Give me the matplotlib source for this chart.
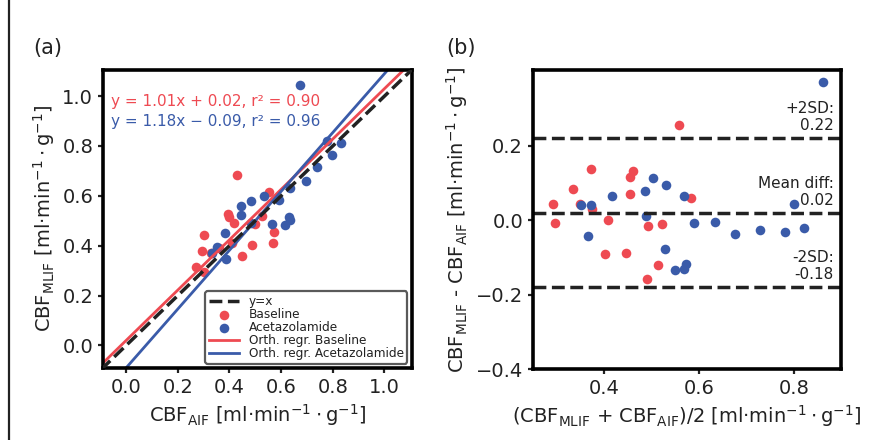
"""Recreate the MLIF vs AIF CBF comparison figure (scatter + Bland-Altman)."""

import matplotlib

matplotlib.use("Agg")
import matplotlib.pyplot as plt
from matplotlib.patches import Rectangle

RED = "#ee4a52"
BLUE = "#3a5ba9"
INK = "#222222"

# panel (a): CBF from AIF vs CBF from MLIF
base_aif = [0.430, 0.271, 0.300, 0.293, 0.327, 0.303, 0.360, 0.409, 0.447,
            0.489, 0.418, 0.397, 0.395, 0.570, 0.500, 0.574, 0.527, 0.553]
base_mlif = [0.685, 0.315, 0.294, 0.378, 0.372, 0.442, 0.391, 0.410, 0.357,
             0.402, 0.490, 0.514, 0.527, 0.411, 0.486, 0.454, 0.518, 0.614]
acet_aif = [0.332, 0.353, 0.388, 0.384, 0.446, 0.482, 0.446, 0.484, 0.566,
            0.615, 0.535, 0.634, 0.631, 0.591, 0.634, 0.695, 0.740, 0.796,
            0.777, 0.830, 0.674]
acet_mlif = [0.372, 0.393, 0.346, 0.449, 0.524, 0.493, 0.560, 0.578, 0.488,
             0.482, 0.601, 0.503, 0.514, 0.585, 0.630, 0.658, 0.715, 0.765,
             0.822, 0.810, 1.046]

# orthogonal regression fits (slope, intercept, r^2)
base_fit = (1.01, 0.02, 0.90)
acet_fit = (1.18, -0.09, 0.96)

# panel (b): Bland-Altman mean and difference
base_mean = [0.557, 0.293, 0.297, 0.335, 0.349, 0.372, 0.375, 0.409, 0.402,
             0.445, 0.454, 0.455, 0.461, 0.490, 0.493, 0.514, 0.522, 0.583]
base_diff = [0.255, 0.044, -0.006, 0.085, 0.045, 0.139, 0.031, 0.001, -0.090,
             -0.087, 0.072, 0.117, 0.132, -0.159, -0.014, -0.120, -0.009, 0.061]
acet_mean = [0.352, 0.373, 0.367, 0.416, 0.485, 0.487, 0.503, 0.531, 0.527,
             0.548, 0.568, 0.568, 0.572, 0.588, 0.632, 0.676, 0.727, 0.780,
             0.799, 0.820, 0.860]
acet_diff = [0.040, 0.040, -0.042, 0.065, 0.078, 0.011, 0.114, 0.094, -0.078,
             -0.133, 0.066, -0.131, -0.117, -0.006, -0.004, -0.037, -0.025,
             -0.031, 0.045, -0.020, 0.372]

limit_labels = ["+2SD:\n0.22", "Mean diff:\n0.02", "-2SD:\n-0.18"]
limit_values = [0.22, 0.02, -0.18]

UNIT = r"[ml·min$^{-1}\cdot$g$^{-1}$]"

plt.rcParams.update({
    "font.family": "DejaVu Sans",
    "mathtext.fontset": "dejavusans",
    "text.color": INK,
    "axes.labelcolor": INK,
    "xtick.color": INK,
    "ytick.color": INK,
    "xtick.labelsize": 14,
    "ytick.labelsize": 14,
    "axes.labelsize": 14,
    "axes.linewidth": 2.6,
    "xtick.major.width": 1.6,
    "ytick.major.width": 1.6,
    "xtick.major.size": 3.5,
    "ytick.major.size": 3.5,
})

fig = plt.figure(figsize=(8.72, 4.40), dpi=100)
fig.patch.set_facecolor("white")
fig.add_artist(Rectangle((8.5 / 872, -0.2), 1.2, 1.2 + (1 - 13 / 440),
                         transform=fig.transFigure, fill=False,
                         edgecolor=INK, linewidth=1.6))

ax1 = fig.add_axes([0.118, 0.164, 0.354, 0.677])
ax2 = fig.add_axes([0.611, 0.161, 0.353, 0.680])

# panel (a)
ax1.plot([-0.2, 1.2], [-0.2, 1.2], "--", color=INK, lw=2.5, label="y=x", zorder=4)
ax1.scatter(base_aif, base_mlif, s=48, color=RED, lw=0, label="Baseline")
ax1.scatter(acet_aif, acet_mlif, s=48, color=BLUE, lw=0, label="Acetazolamide")
ax1.axline((0, base_fit[1]), slope=base_fit[0], color=RED, lw=2,
           label="Orth. regr. Baseline")
ax1.axline((0, acet_fit[1]), slope=acet_fit[0], color=BLUE, lw=2,
           label="Orth. regr. Acetazolamide")
ax1.set_xlim(-0.09, 1.105)
ax1.set_ylim(-0.09, 1.105)
ax1.set_xticks([0.0, 0.2, 0.4, 0.6, 0.8, 1.0])
ax1.set_yticks([0.0, 0.2, 0.4, 0.6, 0.8, 1.0])
ax1.set_xlabel(r"CBF$_\mathrm{AIF}$ " + UNIT)
ax1.set_ylabel(r"CBF$_\mathrm{MLIF}$ " + UNIT)
ax1.text(0.025, 0.918, f"y = {base_fit[0]:.2f}x + {base_fit[1]:.2f}, r\u00b2 = {base_fit[2]:.2f}",
         transform=ax1.transAxes, color=RED, fontsize=11, va="top")
ax1.text(0.025, 0.853, f"y = {acet_fit[0]:.2f}x \u2212 {-acet_fit[1]:.2f}, r\u00b2 = {acet_fit[2]:.2f}",
         transform=ax1.transAxes, color=BLUE, fontsize=11, va="top")
leg = ax1.legend(loc="lower right", fontsize=8.7, handlelength=2.5,
                 labelspacing=0.0, borderpad=0.3, handletextpad=0.8,
                 borderaxespad=0.35, framealpha=1, scatterpoints=1)
leg.get_frame().set_edgecolor("#5a5a5a")
leg.get_frame().set_linewidth(1.6)

# panel (b)
ax2.scatter(base_mean, base_diff, s=48, color=RED, lw=0)
ax2.scatter(acet_mean, acet_diff, s=48, color=BLUE, lw=0)
for value, label in zip(limit_values, limit_labels):
    ax2.axhline(value, ls="--", color=INK, lw=2.5)
    ax2.text(0.883, value + 0.014, label, ha="right", va="bottom",
             fontsize=11, linespacing=1.15)
ax2.set_xlim(0.25, 0.897)
ax2.set_ylim(-0.4, 0.404)
ax2.set_xticks([0.4, 0.6, 0.8])
ax2.set_yticks([-0.4, -0.2, 0.0, 0.2])
ax2.set_xlabel(r"(CBF$_\mathrm{MLIF}$ + CBF$_\mathrm{AIF}$)/2 " + UNIT)
ax2.set_ylabel(r"CBF$_\mathrm{MLIF}$ - CBF$_\mathrm{AIF}$ " + UNIT)

fig.text(33 / 872, 1 - 54 / 440, "(a)", fontsize=15)
fig.text(446 / 872, 1 - 54 / 440, "(b)", fontsize=15)

fig.savefig("out.png", dpi=100)
